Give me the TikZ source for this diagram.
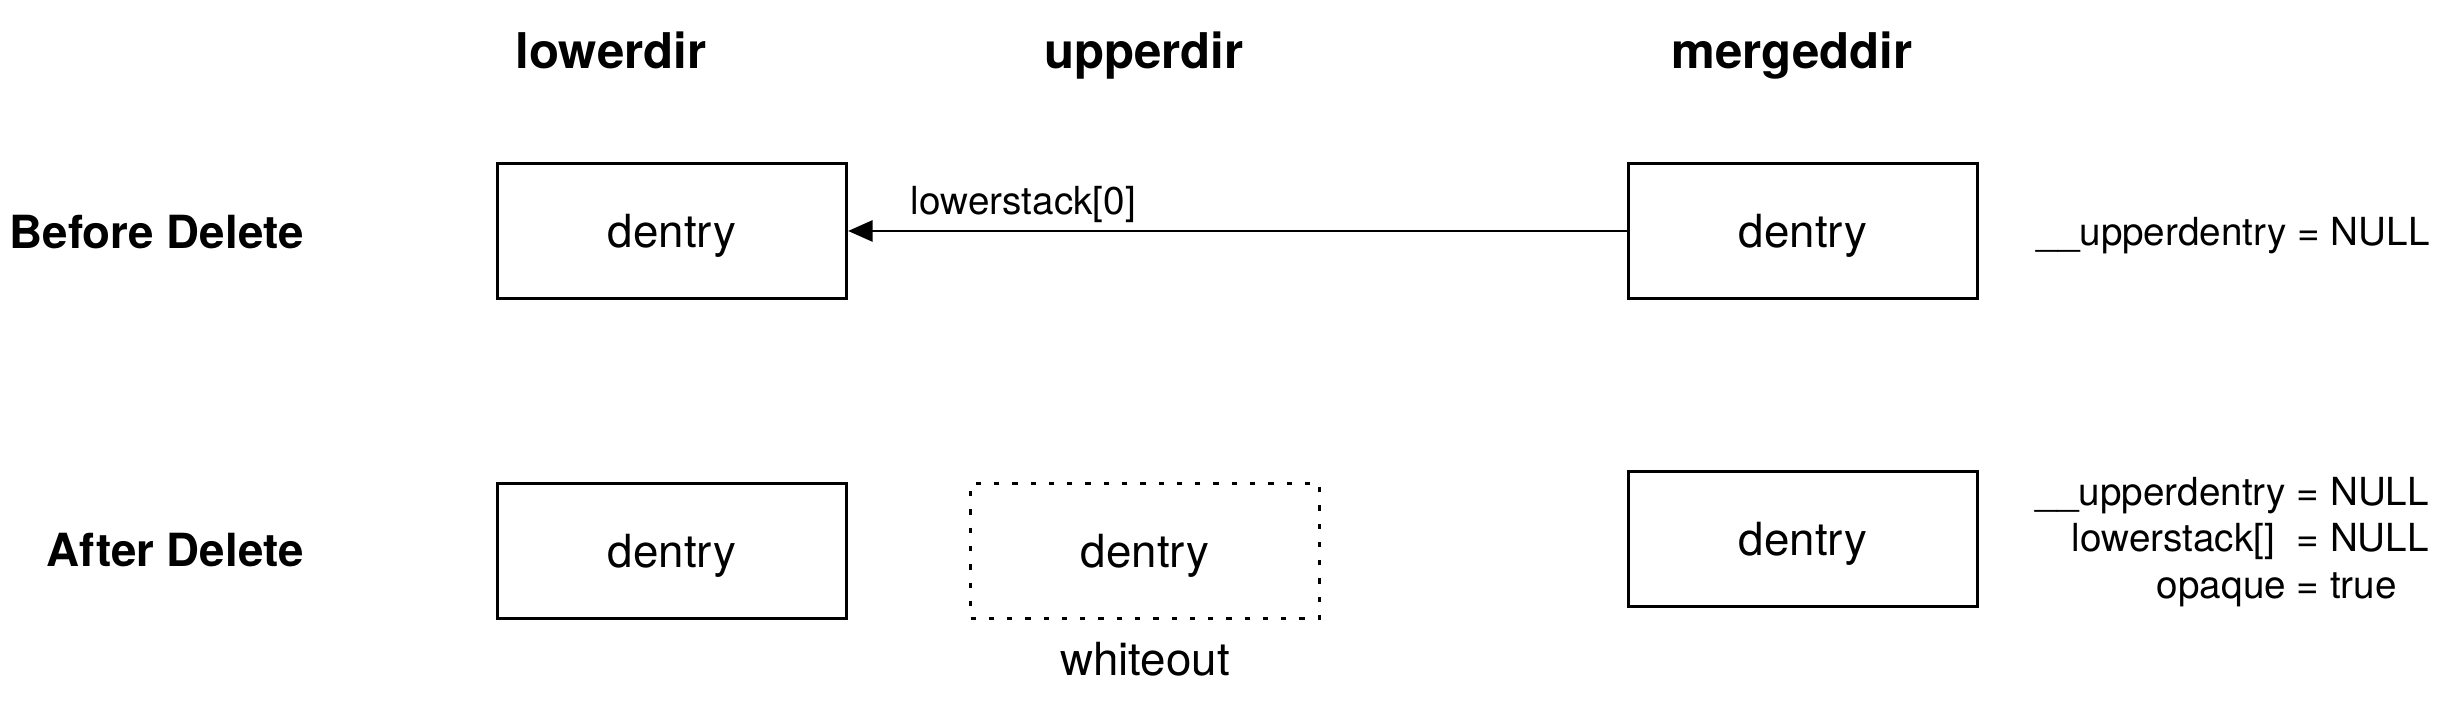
\documentclass[tikz,border=0pt]{standalone}
\usepackage{fontspec}
\setmainfont{TeX Gyre Heros}
\usetikzlibrary{arrows.meta,positioning}

\begin{document}
\begin{tikzpicture}[
  dbox/.style={draw,line width=.9pt,minimum width=3.49cm,minimum height=1.35cm,text depth=0pt,font=\fontsize{13}{15}\selectfont},
  dirlabel/.style={font=\fontsize{14}{16}\selectfont\bfseries,anchor=base},
  rowlabel/.style={font=\fontsize{13}{15}\selectfont\bfseries,anchor=base east},
  note/.style={font=\fontsize{11}{13.2}\selectfont}]

\useasboundingbox (0,0) rectangle (24.44,7.02);

\node[dirlabel] (lowerdir) at (6.11,6.33) {lowerdir};
\node[dirlabel] (upperdir) at (11.44,6.33) {upperdir};
\node[dirlabel] (mergeddir) at (17.92,6.33) {mergeddir};

% before delete
\node[rowlabel] (before) at (3.16,4.53) {Before Delete};
\node[dbox] (l1) at (6.72,4.71) {dentry};
\node[dbox] (m1) at (18.03,4.71) {dentry};
\draw[line width=.8pt,-{Triangle[length=7pt,width=6pt]}] (m1) -- node[note,pos=.775,above,yshift=-1.4pt] {lowerstack[0]} (l1);
\node[note,right=.45cm of m1,yshift=-1.3pt] (u1) {\_\_upperdentry = NULL};

% after delete
\node[rowlabel] (after) at (3.16,1.35) {After Delete};
\node[dbox] (l2) at (6.72,1.51) {dentry};
\node[dbox,dash pattern=on 1.5pt off 3.7pt] (w2) at (11.45,1.51) {dentry};
\node[font=\fontsize{13}{15}\selectfont,below=.1cm of w2] (wh) {whiteout};
\node[dbox] (m2) at (18.03,1.63) {dentry};
\node[note,right=.56cm of m2,yshift=-1pt,inner sep=0pt] (u2) {\begin{tabular}{@{}r@{ = }l@{}}
\_\_upperdentry & NULL\\
lowerstack[]\ \ & NULL\\
opaque & true
\end{tabular}};

\end{tikzpicture}
\end{document}
